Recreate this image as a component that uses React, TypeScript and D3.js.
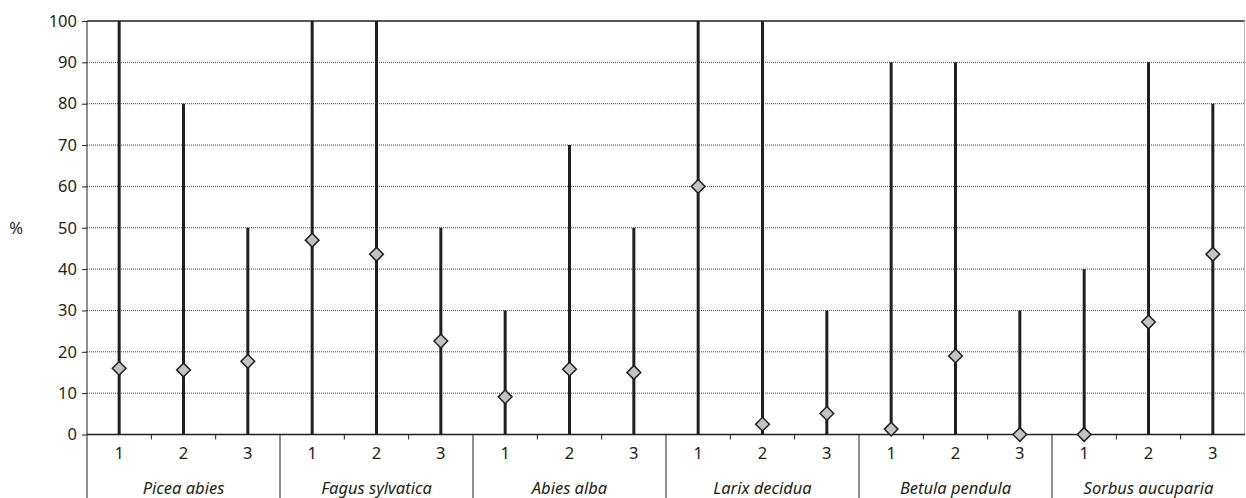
import * as d3 from 'd3';
import * as React from 'react';

const { useRef, useEffect } = React;

const width = 1246;
const height = 498;
const margin = { top: 21, right: 1, bottom: 63.5, left: 87 };

const species = [
  'Picea abies',
  'Fagus sylvatica',
  'Abies alba',
  'Larix decidua',
  'Betula pendula',
  'Sorbus aucuparia',
];
const classes = ['1', '2', '3'];

// upper end of each line (maximum, %)
const maxValues = [
  [100, 80, 50],
  [100, 100, 50],
  [30, 70, 50],
  [100, 100, 30],
  [90, 90, 30],
  [40, 90, 80],
];

// diamond markers (mean, %)
const meanValues = [
  [16, 15.6, 17.7],
  [47, 43.6, 22.6],
  [9.1, 15.8, 15],
  [60, 2.5, 5.1],
  [1.3, 19, 0],
  [0, 27.2, 43.6],
];

const yTicks = [0, 10, 20, 30, 40, 50, 60, 70, 80, 90, 100];

const ink = '#231f20';
const font = '"Noto Sans", sans-serif';
const fontSize = 16.5;

export default () => {
  const rootRef = useRef<SVGSVGElement>(null);

  useEffect(() => {
    const svgEl = rootRef.current;
    if (!svgEl) return;

    const svg = d3.select(svgEl);
    svg.selectAll('*').remove();

    const slots = species.flatMap((s, gi) =>
      classes.map((c, ci) => ({
        key: `${gi}-${ci}`,
        species: s,
        cls: c,
        max: maxValues[gi][ci],
        mean: meanValues[gi][ci],
      })),
    );

    const x = d3
      .scaleBand()
      .domain(slots.map(d => d.key))
      .range([margin.left, width - margin.right]);

    const xGroup = d3
      .scaleBand()
      .domain(species)
      .range([margin.left, width - margin.right]);

    const y = d3
      .scaleLinear()
      .domain([0, 100])
      .range([height - margin.bottom, margin.top]);

    const y0 = y(0);
    const yTop = y(100);

    // grid lines
    svg
      .append('g')
      .selectAll('line')
      .data(yTicks.filter(t => t > 0 && t < 100))
      .join('line')
      .attr('x1', margin.left)
      .attr('x2', width - margin.right)
      .attr('y1', d => y(d))
      .attr('y2', d => y(d))
      .attr('stroke', '#444')
      .attr('stroke-width', 1)
      .attr('stroke-dasharray', '1,1');

    // frame: top solid, right light
    svg
      .append('line')
      .attr('x1', margin.left)
      .attr('x2', width - margin.right)
      .attr('y1', yTop)
      .attr('y2', yTop)
      .attr('stroke', ink)
      .attr('stroke-width', 1.5);
    svg
      .append('line')
      .attr('x1', width - margin.right - 0.5)
      .attr('x2', width - margin.right - 0.5)
      .attr('y1', yTop)
      .attr('y2', y0)
      .attr('stroke', '#bbb')
      .attr('stroke-width', 1);

    // y axis
    const yAxis = svg
      .append('g')
      .attr('transform', `translate(${margin.left},0)`)
      .call(d3.axisLeft(y).tickValues(yTicks).tickSize(5).tickSizeOuter(0).tickPadding(5));
    yAxis.select('.domain').remove();
    yAxis.selectAll('line').attr('stroke', ink);
    yAxis
      .selectAll('text')
      .attr('fill', ink)
      .attr('font-family', font)
      .attr('font-size', fontSize);

    svg
      .append('line')
      .attr('x1', margin.left)
      .attr('x2', margin.left)
      .attr('y1', yTop)
      .attr('y2', height)
      .attr('stroke', ink)
      .attr('stroke-width', 1);

    svg
      .append('text')
      .attr('x', 16)
      .attr('y', y(50))
      .attr('dy', '0.35em')
      .attr('text-anchor', 'middle')
      .attr('font-family', font)
      .attr('font-size', fontSize)
      .attr('fill', ink)
      .text('%');

    // x axis line
    svg
      .append('line')
      .attr('x1', margin.left)
      .attr('x2', width - margin.right)
      .attr('y1', y0)
      .attr('y2', y0)
      .attr('stroke', ink)
      .attr('stroke-width', 1.5);

    // minor ticks between classes
    svg
      .append('g')
      .selectAll('line')
      .data(slots.filter((d, i) => i % 3 !== 0))
      .join('line')
      .attr('x1', d => x(d.key)!)
      .attr('x2', d => x(d.key)!)
      .attr('y1', y0)
      .attr('y2', y0 + 5)
      .attr('stroke', ink)
      .attr('stroke-width', 1);

    // group separators
    svg
      .append('g')
      .selectAll('line')
      .data(species.slice(1))
      .join('line')
      .attr('x1', d => xGroup(d)!)
      .attr('x2', d => xGroup(d)!)
      .attr('y1', y0)
      .attr('y2', height)
      .attr('stroke', ink)
      .attr('stroke-width', 1);

    // class labels
    svg
      .append('g')
      .selectAll('text')
      .data(slots)
      .join('text')
      .attr('x', d => x(d.key)! + x.bandwidth() / 2)
      .attr('y', y0 + 19)
      .attr('dy', '0.35em')
      .attr('text-anchor', 'middle')
      .attr('font-family', font)
      .attr('font-size', fontSize)
      .attr('fill', ink)
      .text(d => d.cls);

    // species labels
    svg
      .append('g')
      .selectAll('text')
      .data(species)
      .join('text')
      .attr('x', d => xGroup(d)! + xGroup.bandwidth() / 2)
      .attr('y', y0 + 54)
      .attr('dy', '0.35em')
      .attr('text-anchor', 'middle')
      .attr('font-family', font)
      .attr('font-style', 'italic')
      .attr('font-size', fontSize)
      .attr('fill', ink)
      .text(d => d);

    // range lines
    svg
      .append('g')
      .selectAll('line')
      .data(slots)
      .join('line')
      .attr('x1', d => x(d.key)! + x.bandwidth() / 2)
      .attr('x2', d => x(d.key)! + x.bandwidth() / 2)
      .attr('y1', y0)
      .attr('y2', d => y(d.max))
      .attr('stroke', ink)
      .attr('stroke-width', 3);

    // diamonds
    const diamond = d3.symbol().type(d3.symbolDiamond2).size(120);
    svg
      .append('g')
      .selectAll('path')
      .data(slots)
      .join('path')
      .attr('transform', d => `translate(${x(d.key)! + x.bandwidth() / 2},${y(d.mean)})`)
      .attr('d', diamond()!)
      .attr('fill', '#c2c3c5')
      .attr('stroke', ink)
      .attr('stroke-width', 1.5);
  }, []);

  return (
    <svg
      ref={rootRef}
      width={width}
      height={height}
      style={{ position: 'absolute', left: 0, top: 0, background: '#fff' }}
    />
  );
};
